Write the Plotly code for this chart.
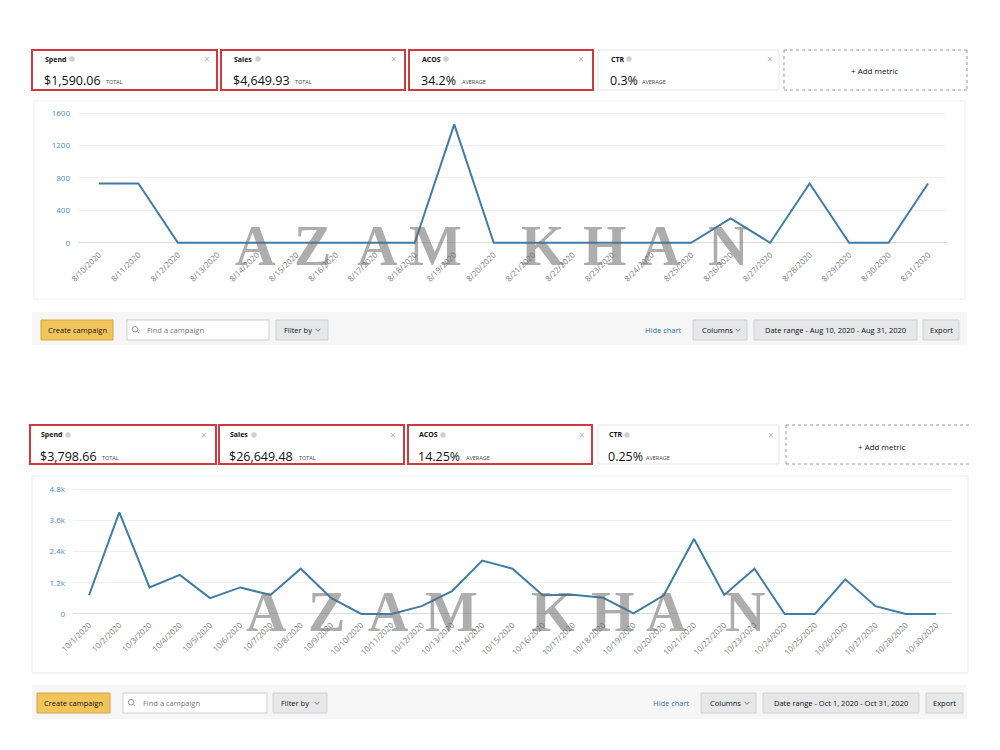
import plotly.graph_objects as go

# ---------------- data ----------------
aug_dates = ["8/10/2020", "8/11/2020", "8/12/2020", "8/13/2020", "8/14/2020", "8/15/2020",
             "8/16/2020", "8/17/2020", "8/18/2020", "8/19/2020", "8/20/2020", "8/21/2020",
             "8/22/2020", "8/23/2020", "8/24/2020", "8/25/2020", "8/26/2020", "8/27/2020",
             "8/28/2020", "8/29/2020", "8/30/2020", "8/31/2020"]
aug_values = [730, 730, 0, 0, 0, 0, 0, 0, 0, 1460, 0, 0, 0, 0, 0, 0, 300, 0, 730, 0, 0, 730]
aug_ticks = [0, 400, 800, 1200, 1600]
aug_ticktext = ["0", "400", "800", "1200", "1600"]

oct_dates = ["10/1/2020", "10/2/2020", "10/3/2020", "10/4/2020", "10/5/2020", "10/6/2020",
             "10/7/2020", "10/8/2020", "10/9/2020", "10/10/2020", "10/11/2020", "10/12/2020",
             "10/13/2020", "10/14/2020", "10/15/2020", "10/16/2020", "10/17/2020", "10/18/2020",
             "10/19/2020", "10/20/2020", "10/21/2020", "10/22/2020", "10/23/2020", "10/24/2020",
             "10/25/2020", "10/26/2020", "10/27/2020", "10/28/2020", "10/30/2020"]
oct_values = [720, 3900, 1020, 1500, 610, 1020, 730, 1740, 620, 0, 0, 300, 880, 2050, 1740,
              720, 740, 620, 20, 720, 2880, 730, 1740, 0, 0, 1330, 300, 0, 0]
oct_ticks = [0, 1200, 2400, 3600, 4800]
oct_ticktext = ["0", "1.2k", "2.4k", "3.6k", "4.8k"]

# metric cards: (label, value, suffix)
aug_metrics = [("Spend", "$1,590.06", "TOTAL"), ("Sales", "$4,649.93", "TOTAL"),
               ("ACOS", "34.2%", "AVERAGE"), ("CTR", "0.3%", "AVERAGE")]
oct_metrics = [("Spend", "$3,798.66", "TOTAL"), ("Sales", "$26,649.48", "TOTAL"),
               ("ACOS", "14.25%", "AVERAGE"), ("CTR", "0.25%", "AVERAGE")]
aug_range = "Date range - Aug 10, 2020 - Aug 31, 2020"
oct_range = "Date range - Oct 1, 2020 - Oct 31, 2020"
watermark = ["A", "Z", "A", "M", "K", "H", "A", "N"]

# ---------------- helpers ----------------
W, H = 1000, 750
FONT = "Open Sans"
LINE = "#3f7ca8"
RED = "#d2393e"


def X(px):
    return px / W


def Y(py):
    return 1 - py / H


shapes = []
annotations = []


def rect(x0, y0, x1, y1, fill="rgba(0,0,0,0)", line="rgba(0,0,0,0)", width=1, dash="solid"):
    shapes.append(dict(type="rect", xref="paper", yref="paper", x0=X(x0), x1=X(x1),
                       y0=Y(y1), y1=Y(y0), fillcolor=fill,
                       line=dict(color=line, width=width, dash=dash), layer="below"))


def circle(cx, cy, r, fill="rgba(0,0,0,0)", line="rgba(0,0,0,0)", width=1):
    shapes.append(dict(type="circle", xref="paper", yref="paper", x0=X(cx - r), x1=X(cx + r),
                       y0=Y(cy + r), y1=Y(cy - r), fillcolor=fill,
                       line=dict(color=line, width=width), layer="below"))


def seg(x0, y0, x1, y1, color, width=1, dash="solid"):
    shapes.append(dict(type="line", xref="paper", yref="paper", x0=X(x0), x1=X(x1),
                       y0=Y(y0), y1=Y(y1), line=dict(color=color, width=width, dash=dash),
                       layer="below"))


def chevron(cx, cy, color="#777"):
    seg(cx - 2.5, cy - 1.2, cx, cy + 1.3, color, 1)
    seg(cx, cy + 1.3, cx + 2.5, cy - 1.2, color, 1)


def text(x, y, s, size, color="#111", xanchor="left", family=FONT, bold=False):
    annotations.append(dict(x=X(x), y=Y(y), xref="paper", yref="paper",
                            text=("<b>%s</b>" % s) if bold else s, showarrow=False,
                            xanchor=xanchor, yanchor="middle",
                            font=dict(size=size, color=color, family=family)))


VALUE_W = {"$1,590.06": 61, "$4,649.93": 61, "34.2%": 40, "0.3%": 31,
           "$3,798.66": 61, "$26,649.48": 69, "14.25%": 47, "0.25%": 37}


def cards(metrics, boxes, pad, lab_y, val_y, addbox, add_center, info_dx, close_x, open_right):
    y0, y1 = addbox[1], addbox[2]
    for i, ((lab, val, suf), (x0, x1)) in enumerate(zip(metrics, boxes)):
        if i < 3:
            rect(x0, y0, x1, y1, fill="white", line=RED, width=2)
        else:
            rect(x0, y0, x1, y1, fill="white", line="#e6e6e6", width=1)
        tx = x0 + pad
        text(tx, lab_y, lab, 7, "#111", bold=True)
        circle(tx + info_dx[i], lab_y, 2.7, fill="#d0d0d0")
        text(close_x[i], lab_y, "×", 10, "#b0b0b0", xanchor="center")
        text(tx - 1, val_y, val, 12.5, "#111")
        text(tx + VALUE_W[val], val_y + 2, suf, 5.5, "#444")
    ax0, ax1 = addbox[0], addbox[3]
    rect(ax0, y0, ax1, y1, fill="white")
    seg(ax0, y0, ax1, y0, "#9a9a9a", 1, "dot")
    seg(ax0, y1, ax1, y1, "#9a9a9a", 1, "dot")
    seg(ax0, y0, ax0, y1, "#9a9a9a", 1, "dot")
    if not open_right:
        seg(ax1, y0, ax1, y1, "#9a9a9a", 1, "dot")
    text(add_center[0], add_center[1], "+ Add metric", 8, "#111", xanchor="center")


def toolbar(y0, y1, bx):
    rect(32, y0, 967, y1, fill="#f6f6f6")
    by0, by1 = bx["by"]
    cy = (by0 + by1) / 2
    c0, c1 = bx["create"]
    rect(c0, by0, c1, by1, fill="#f2c55c", line="#d5a63c")
    text((c0 + c1) / 2, cy, "Create campaign", 7.5, "#111", xanchor="center")
    f0, f1 = bx["find"]
    rect(f0, by0, f1, by1, fill="white", line="#cfcfcf")
    circle(f0 + 8, cy - 0.8, 2.8, line="#999", width=1)
    seg(f0 + 10, cy + 1.2, f0 + 12, cy + 3.2, "#999", 1)
    text(f0 + 18, cy, "Find a campaign", 7.5, "#777")
    g0, g1 = bx["filter"]
    rect(g0, by0, g1, by1, fill="#e6e7e9", line="#d0d0d0")
    text(g0 + 6, cy, "Filter by", 7.5, "#111")
    chevron(g1 - 10, cy)
    text(bx["hide"], cy, "Hide chart", 7.5, "#2f74b0", xanchor="center")
    k0, k1 = bx["columns"]
    rect(k0, by0, k1, by1, fill="#e6e7e9", line="#d0d0d0")
    text(k0 + 7, cy, "Columns", 7.5, "#111")
    chevron(k1 - 9, cy)
    d0, d1 = bx["date"]
    rect(d0, by0, d1, by1, fill="#e6e7e9", line="#d0d0d0")
    text((d0 + d1) / 2, cy, bx["range"], 7.5, "#111", xanchor="center")
    e0, e1 = bx["export"]
    rect(e0, by0, e1, by1, fill="#e6e7e9", line="#d0d0d0")
    text((e0 + e1) / 2, cy, "Export", 7.5, "#111", xanchor="center")


# ---------------- top section ----------------
cards(aug_metrics, [(32, 217), (221, 405), (409, 593), (598, 779)], 11, 59, 80,
      (784, 50, 90, 967), (875, 70), [29, 26, 26, 20], [207, 394, 581, 770], False)
rect(34, 101, 965, 299, fill="white", line="#ededed")
toolbar(312, 345, dict(by=(320, 340), create=(41, 113), find=(127, 269), filter=(276, 328),
                       hide=(663), columns=(693, 747), date=(754, 917), export=(923, 959),
                       range=aug_range))

# ---------------- bottom section ----------------
cards(oct_metrics, [(30, 216), (219, 404), (408, 592), (598, 779)], 9, 435, 456,
      (786, 425, 464, 970), (882, 446), [29, 26, 26, 20], [204, 393, 582, 771], True)
rect(32, 476, 968, 673, fill="white", line="#ededed")
toolbar(685, 719, dict(by=(693, 713), create=(37, 110), find=(123, 267), filter=(273, 327),
                       hide=(671), columns=(701, 756), date=(763, 919), export=(926, 963),
                       range=oct_range))

# ---------------- watermark ----------------
top_x = [255, 312, 377, 435, 543, 605, 660, 728]
bot_x = [266, 326, 388, 451, 553, 613, 666, 745]
for ch, tx, bx_ in zip(watermark, top_x, bot_x):
    for xx, yy in ((tx, 246), (bx_, 612)):
        annotations.append(dict(x=X(xx), y=Y(yy), xref="paper", yref="paper",
                                text="<b>%s</b>" % ch, showarrow=False,
                                xanchor="center", yanchor="middle",
                                font=dict(size=56, color="rgba(105,105,105,0.55)",
                                          family="Liberation Serif")))

# ---------------- figure ----------------
fig = go.Figure()
fig.add_trace(go.Scatter(x=aug_dates, y=aug_values, mode="lines", xaxis="x", yaxis="y",
                         line=dict(color=LINE, width=2), hoverinfo="x+y"))
fig.add_trace(go.Scatter(x=oct_dates, y=oct_values, mode="lines", xaxis="x2", yaxis="y2",
                         line=dict(color=LINE, width=2), hoverinfo="x+y"))

xcommon = dict(type="category", tickangle=-45, dtick=1, showgrid=False, showline=False,
               zeroline=False, ticks="", automargin=False,
               tickfont=dict(size=8, color="#7f7f7f", family=FONT))
ycommon = dict(showgrid=True, gridcolor="#f0f0f0", gridwidth=1, zeroline=True,
               zerolinecolor="#dcdcdc", zerolinewidth=1, showline=False, ticks="",
               automargin=False, ticklabelstandoff=7,
               tickfont=dict(size=8, color="#4f8cc2", family=FONT))

fig.update_layout(
    width=W, height=H, margin=dict(l=0, r=0, t=0, b=0, autoexpand=False),
    paper_bgcolor="white", plot_bgcolor="rgba(0,0,0,0)", showlegend=False,
    xaxis=dict(xcommon, domain=[X(78), X(947)], range=[-0.53, 21.48], anchor="y"),
    yaxis=dict(ycommon, domain=[Y(247.6), Y(109.8)], range=[-60, 1640],
               tickvals=aug_ticks, ticktext=aug_ticktext, anchor="x"),
    xaxis2=dict(xcommon, domain=[X(73), X(952)], range=[-0.53, 28.53], anchor="y2"),
    yaxis2=dict(ycommon, domain=[Y(617.9), Y(485.1)], range=[-150, 4950],
                tickvals=oct_ticks, ticktext=oct_ticktext, anchor="x2"),
    shapes=shapes, annotations=annotations,
)

fig.write_html("out.html")
